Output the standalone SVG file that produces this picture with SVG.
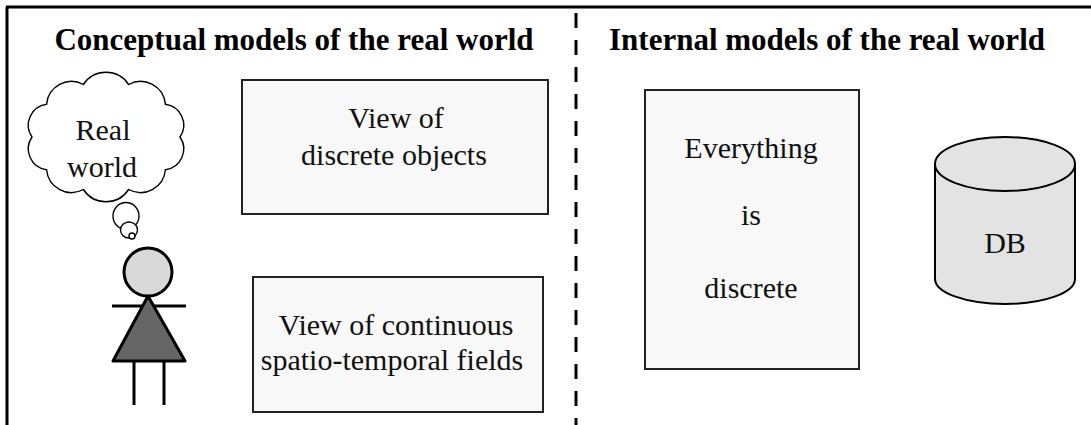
<svg xmlns="http://www.w3.org/2000/svg" width="1091" height="425" viewBox="0 0 1091 425">
  <style>
    .title { font-family: "Liberation Serif", "Times New Roman", serif; font-weight: bold; font-size: 31px; fill: #000; text-anchor: middle; }
    .label { font-family: "Liberation Serif", "Times New Roman", serif; font-size: 30px; fill: #111; text-anchor: middle; }
    .box { fill: #f8f8f8; stroke: #222; stroke-width: 2; }
    .thin { fill: #fff; stroke: #000; stroke-width: 1.4; }
    .frame { stroke: #000; stroke-width: 3; fill: none; }
  </style>
  <rect width="1091" height="425" fill="#fff"/>

  <!-- frame: top and left edges, dashed divider -->
  <g id="frame">
    <line class="frame" x1="6" y1="7" x2="1091" y2="7"/>
    <line class="frame" x1="7" y1="7" x2="7" y2="425"/>
    <line class="frame" x1="576" y1="13" x2="576" y2="425" stroke-dasharray="15 12"/>
  </g>

  <!-- section headings -->
  <text class="title" x="294" y="50">Conceptual models of the real world</text>
  <text class="title" x="827" y="50">Internal models of the real world</text>

  <!-- thought cloud -->
  <g id="cloud">
    <path class="thin" d="M180,137 A21,21 0 0 1 165.4,169.7 A25,25 0 0 1 128.6,189.5 A27,27 0 0 1 83.4,189.5 A25,25 0 0 1 46.6,169.7 A21,21 0 0 1 32,137 A21,21 0 0 1 46.6,104.3 A25,25 0 0 1 83.4,84.5 A27,27 0 0 1 128.6,84.5 A25,25 0 0 1 165.4,104.3 A21,21 0 0 1 180,137 Z"/>
    <ellipse class="thin" cx="126" cy="216" rx="13" ry="13.5"/>
    <ellipse class="thin" cx="129" cy="230" rx="8.5" ry="8"/>
    <circle class="thin" cx="132" cy="236" r="3"/>
    <text class="label" x="103" y="140">Real</text>
    <text class="label" x="102" y="177">world</text>
  </g>

  <!-- person -->
  <g id="person" stroke="#000" stroke-width="3" stroke-linejoin="round">
    <line x1="112" y1="306" x2="186" y2="306"/>
    <line x1="134" y1="361" x2="134" y2="405"/>
    <line x1="164" y1="361" x2="164" y2="405"/>
    <polygon points="148,296 113,361 185,361" fill="#666"/>
    <circle cx="148" cy="272" r="24" fill="#d9d9d9"/>
  </g>

  <g id="discrete-view">
    <rect class="box" x="242" y="80" width="306" height="134"/>
    <text class="label" x="396" y="128">View of</text>
    <text class="label" x="394" y="165">discrete objects</text>
  </g>

  <g id="field-view">
    <rect class="box" x="253" y="277" width="290" height="135"/>
    <text class="label" x="396" y="335">View of continuous</text>
    <text class="label" x="392" y="370">spatio-temporal fields</text>
  </g>

  <g id="everything-discrete">
    <rect class="box" x="645" y="90" width="214" height="279"/>
    <text class="label" x="751" y="158">Everything</text>
    <text class="label" x="751" y="225">is</text>
    <text class="label" x="751" y="298">discrete</text>
  </g>

  <!-- database cylinder -->
  <g id="db">
    <path d="M935,164 L935,279 A70,25 0 0 0 1075,279 L1075,164 Z" fill="#e3e3e3" stroke="#000" stroke-width="2"/>
    <ellipse cx="1005" cy="164" rx="70" ry="27" fill="#e3e3e3" stroke="#000" stroke-width="2"/>
    <text class="label" x="1005" y="253">DB</text>
  </g>
</svg>
